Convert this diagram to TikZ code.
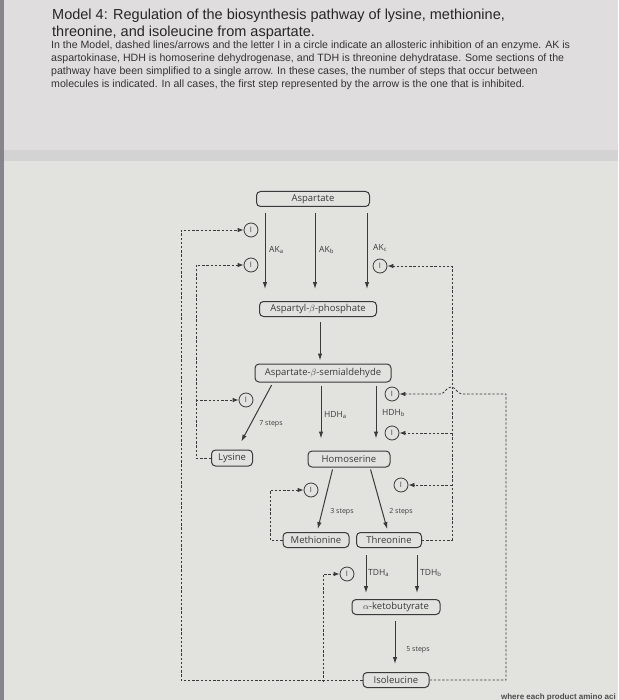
\documentclass[tikz,border=0pt]{standalone}
\usepackage{fontspec}
\setmainfont{Liberation Sans}
\newfontfamily\diagfont{Open Sans}
\usetikzlibrary{arrows.meta}

\definecolor{pagetop}{RGB}{224,221,222}
\definecolor{pagelow}{RGB}{226,227,223}
\definecolor{band}{RGB}{212,211,212}
\definecolor{edge}{RGB}{135,132,138}
\definecolor{ink}{RGB}{58,58,58}

\tikzset{
  mol/.style={draw=ink, line width=1pt, rounded corners=4pt, fill=pagelow, inner sep=1pt, minimum height=15pt, font=\diagfont\fontsize{9.5}{10}\selectfont, text=ink},
  inhib/.style={draw=ink, circle, line width=0.8pt, minimum size=14pt, inner sep=0pt, font=\diagfont\fontsize{7.5}{7.5}\selectfont, text=ink},
  flow/.style={-{Latex[length=7pt,width=4.5pt]}, line width=1pt, draw=ink},
  fbarrow/.style={draw=ink, line width=0.8pt, dash pattern=on 2.4pt off 1.8pt, -{Latex[length=6pt,width=4.5pt]}},
  enz/.style={font=\diagfont\fontsize{8.5}{8.5}\selectfont, text=ink, anchor=west, inner sep=0pt},
  steps/.style={font=\diagfont\fontsize{7}{7}\selectfont, text=ink, inner sep=0pt},
  title/.style={font=\fontsize{14.5}{14.5}\selectfont, text=black!85, anchor=base west, inner sep=0pt},
  intro/.style={font=\fontsize{10.6}{10.6}\selectfont, text=black!80, anchor=base west, inner sep=0pt}
}

\begin{document}
\begin{tikzpicture}[x=1pt, y=-1pt]
  % page and photo background
  \useasboundingbox (0,0) rectangle (618,700);
  \clip (0,0) rectangle (618,700);
  \fill[pagetop] (0,0) rectangle (618,152);
  \fill[band] (0,150) rectangle (618,162);
  \fill[pagelow] (0,161) rectangle (618,700);
  \fill[edge] (0,0) rectangle (4,700);

  % Header
  \node[title] (t1) at (52,20) {Model 4: Regulation of the biosynthesis pathway of lysine, methionine,};
  \node[title] (t2) at (52,37) {threonine, and isoleucine from aspartate.};
  \node[intro] (p1) at (51,49) {In the Model, dashed lines/arrows and the letter I in a circle indicate an allosteric inhibition of an enzyme. AK is};
  \node[intro] (p2) at (51,62) {aspartokinase, HDH is homoserine dehydrogenase, and TDH is threonine dehydratase. Some sections of the};
  \node[intro] (p3) at (51,75) {pathway have been simplified to a single arrow. In these cases, the number of steps that occur between};
  \node[intro] (p4) at (51,88) {molecules is indicated. In all cases, the first step represented by the arrow is the one that is inhibited.};

  % Molecules
  \node[mol, minimum width=113pt] (asp) at (313,199) {Aspartate};
  \node[mol, minimum width=117pt] (aspp) at (318,309) {Aspartyl-$\beta$-phosphate};
  \node[mol, minimum width=136pt, minimum height=18pt] (asa) at (323,373) {Aspartate-$\beta$-semialdehyde};
  \node[mol, minimum width=41pt, minimum height=16pt] (lys) at (232,458) {Lysine};
  \node[mol, minimum width=82pt, minimum height=16pt] (hom) at (349,459) {Homoserine};
  \node[mol, minimum width=66pt] (met) at (316,540) {Methionine};
  \node[mol, minimum width=65pt] (thr) at (389,540) {Threonine};
  \node[mol, minimum width=88pt] (akb) at (396,607) {$\alpha$-ketobutyrate};
  \node[mol, minimum width=66pt] (ile) at (396,680) {Isoleucine};

  % Inhibition points
  \node[inhib] (iAKa1) at (251,230) {I};
  \node[inhib] (iAKa2) at (251,265) {I};
  \node[inhib] (iAKc) at (380,266) {I};
  \node[inhib] (iLys) at (246,400) {I};
  \node[inhib] (iHDHb1) at (392,394) {I};
  \node[inhib] (iHDHb2) at (392,433) {I};
  \node[inhib] (iMet) at (311,490) {I};
  \node[inhib] (iThr) at (401,485) {I};
  \node[inhib] (iTDHa) at (347,574) {I};

  % Pathway arrows
  \draw[flow, shorten <=6pt, shorten >=12pt] ([xshift=-48pt]asp.south) -- ([xshift=-48pt]asp.south |- aspp.north);
  \draw[flow, shorten <=6pt, shorten >=12pt] ([xshift=2pt]asp.south) -- ([xshift=2pt]asp.south |- aspp.north);
  \draw[flow, shorten <=6pt, shorten >=12pt] ([xshift=54pt]asp.south) -- ([xshift=54pt]asp.south |- aspp.north);
  \draw[flow, shorten <=5pt, shorten >=3pt] ([xshift=2pt]aspp.south) -- ([xshift=2pt]aspp.south |- asa.north);
  \draw[flow, shorten <=3pt, shorten >=9pt] ([xshift=-50pt]asa.south) -- ([xshift=5pt]lys.north);
  \draw[flow, shorten <=3pt, shorten >=12pt] ([xshift=-2pt]asa.south) -- ([xshift=-2pt]asa.south |- hom.north);
  \draw[flow, shorten <=3pt, shorten >=12pt] ([xshift=53pt]asa.south) -- ([xshift=53pt]asa.south |- hom.north);
  \draw[flow, shorten <=2pt, shorten >=3pt] ([xshift=-16pt]hom.south) -- ([xshift=1pt]met.north);
  \draw[flow, shorten <=2pt, shorten >=3pt] ([xshift=21pt]hom.south) -- ([xshift=-1pt]thr.north);
  \draw[flow, shorten <=7pt, shorten >=6pt] ([xshift=-23pt]thr.south) -- ([xshift=-23pt]thr.south |- akb.north);
  \draw[flow, shorten <=7pt, shorten >=6pt] ([xshift=28pt]thr.south) -- ([xshift=28pt]thr.south |- akb.north);
  \draw[flow, shorten <=6pt, shorten >=8pt] ([xshift=-1pt]akb.south) -- ([xshift=-1pt]ile.north);

  % Enzymes and step counts
  \node[enz] (lAKa) at (269,250) {AK\textsubscript{a}};
  \node[enz] (lAKb) at (319,250) {AK\textsubscript{b}};
  \node[enz] (lAKc) at (373,248) {AK\textsubscript{c}};
  \node[enz] (lHDHa) at (324,415) {HDH\textsubscript{a}};
  \node[enz] (lHDHb) at (382,413) {HDH\textsubscript{b}};
  \node[enz] (lTDHa) at (368,573) {TDH\textsubscript{a}};
  \node[enz] (lTDHb) at (420,573) {TDH\textsubscript{b}};
  \node[steps] (s7) at (271,424) {7 steps};
  \node[steps] (s3) at (342,512) {3 steps};
  \node[steps] (s2) at (401,512) {2 steps};
  \node[steps] (s5) at (418,650) {5 steps};

  % Feedback junctions
  \coordinate (jOuter) at (181,230);
  \coordinate (jTDH) at (323,682);
  \coordinate (jRight) at (506,394);
  \coordinate (jThr) at (452,266);
  \coordinate (jThrB) at (452,433);
  \coordinate (jThrC) at (452,485);
  \coordinate (jLys) at (196,265);
  \coordinate (jLysB) at (196,400);
  \coordinate (jMet) at (270,490);

  % Isoleucine feedback
  \draw[fbarrow] (ile.west) -| (jOuter) -- (iAKa1);
  \draw[fbarrow] (jTDH) |- (iTDHa);
  \draw[fbarrow] (ile.east) -| (jRight) -- (462,394)
    .. controls (457,394) and (456,387) .. (451,387)
    .. controls (446,387) and (445,394) .. (440,394) -- (iHDHb1);
  % Threonine feedback
  \draw[fbarrow] (thr.east) -| (jThr) -- (iAKc);
  \draw[fbarrow] (jThrB) -- (iHDHb2);
  \draw[fbarrow] (jThrC) -- (iThr);
  % Lysine feedback
  \draw[fbarrow] (lys.west) -| (jLys) -- (iAKa2);
  \draw[fbarrow] (jLysB) -- (iLys);
  % Methionine feedback
  \draw[fbarrow] (met.west) -| (jMet) -- (iMet);

  % next page text, cut off
  \node[font=\bfseries\fontsize{8}{8}\selectfont, text=black!70, anchor=base east, inner sep=0pt] (next) at (616,699) {where each product amino aci};
\end{tikzpicture}
\end{document}
